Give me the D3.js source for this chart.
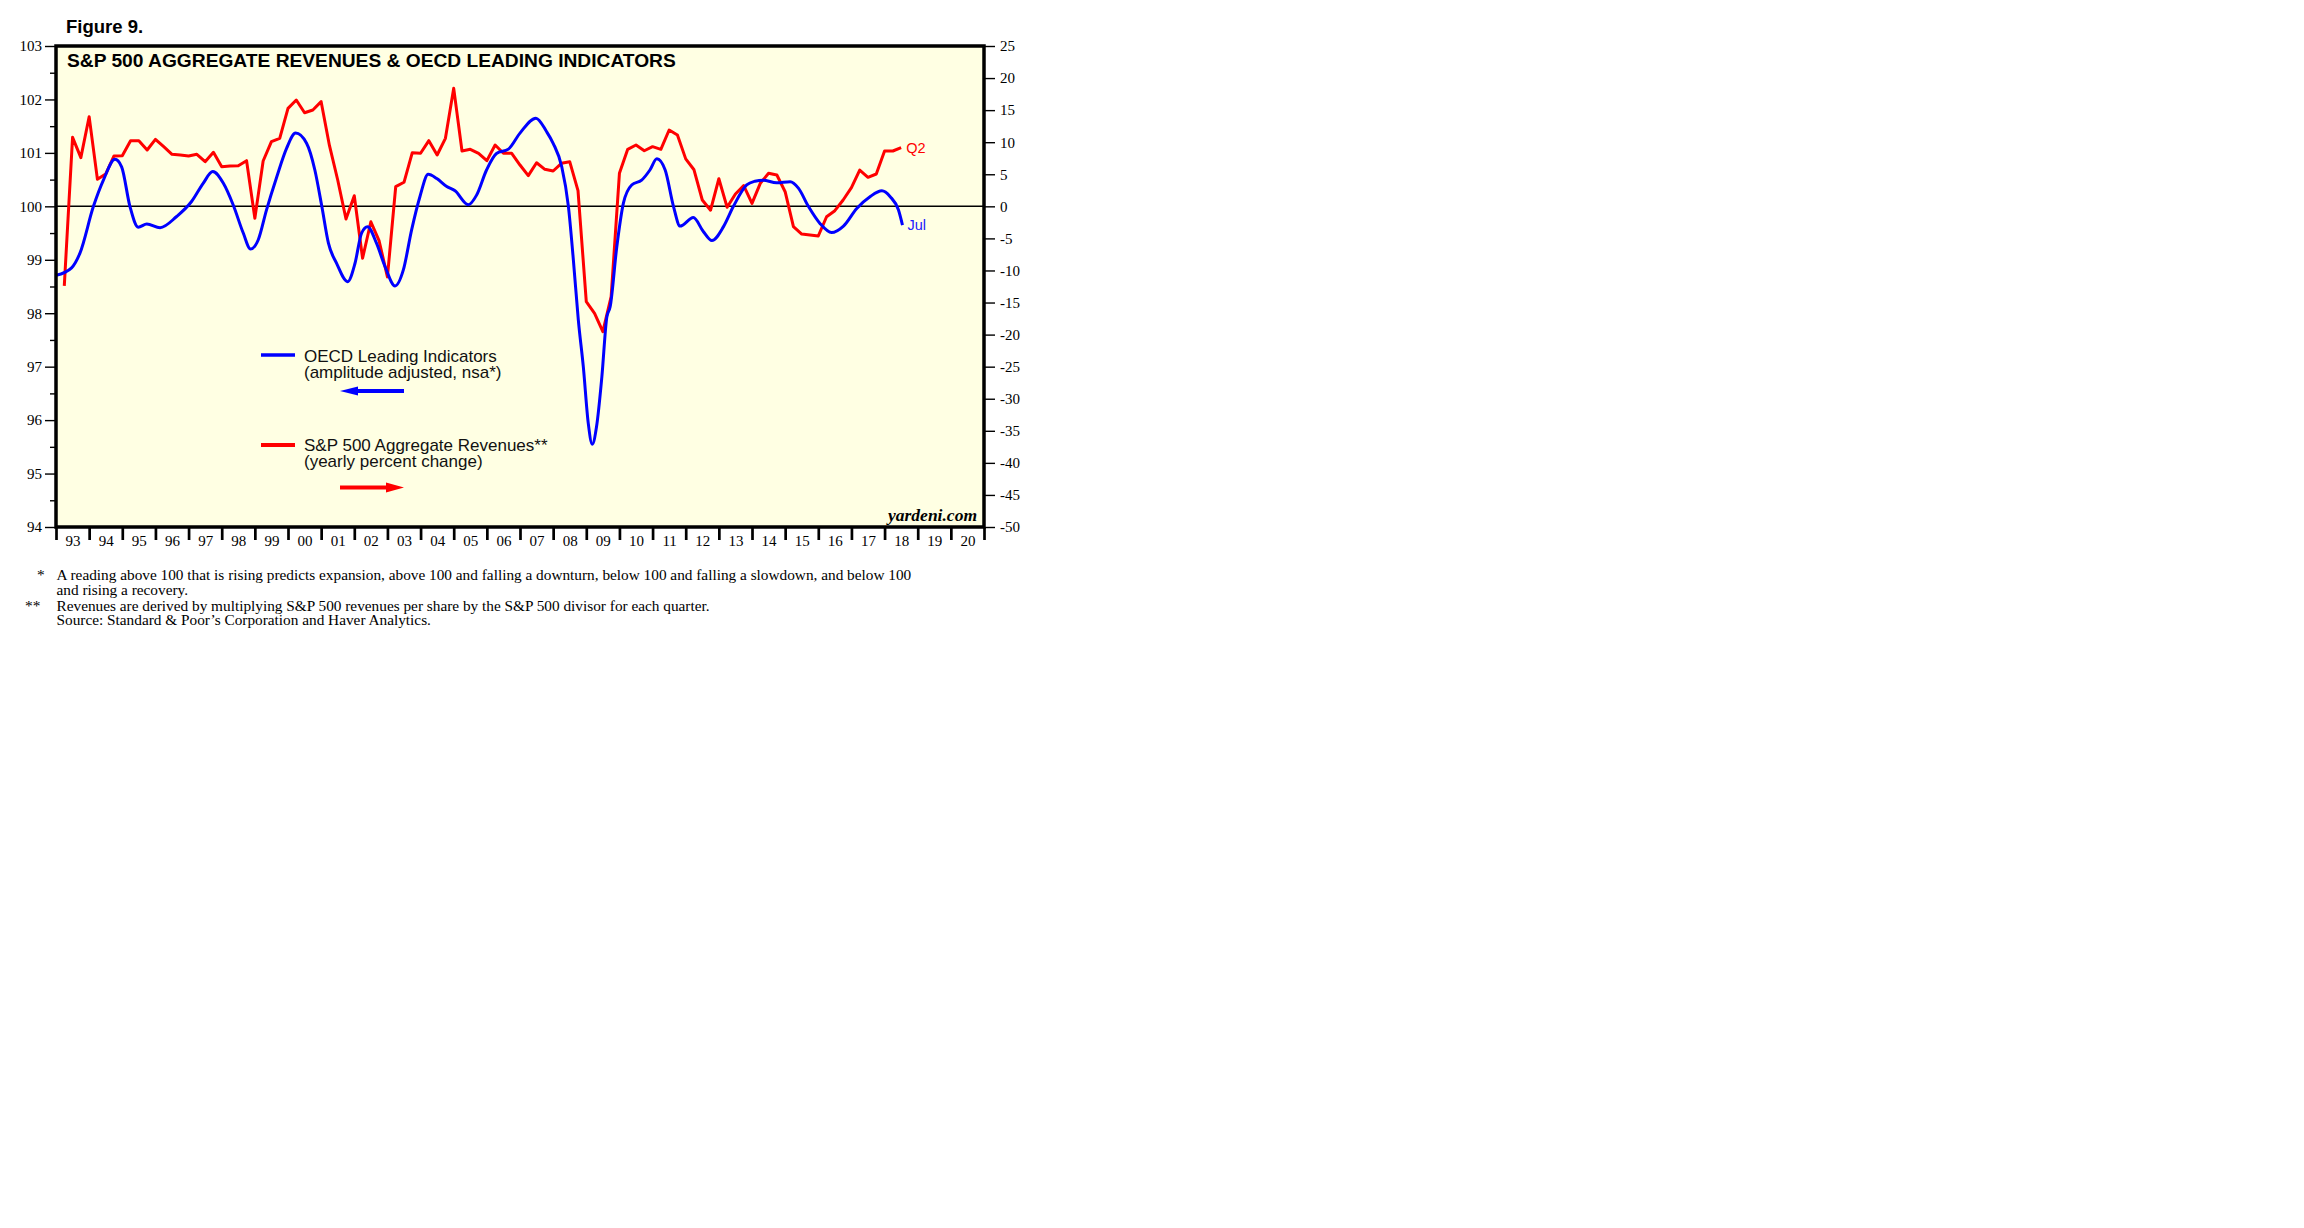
<!DOCTYPE html>
<html>
<head>
<meta charset="utf-8">
<script src="https://cdn.jsdelivr.net/npm/d3@7"></script>
<style>
  html, body { margin: 0; padding: 0; background: #ffffff; }
  svg { display: block; }
</style>
</head>
<body>
<svg id="chart" width="2304" height="1228"></svg>
<script>
// ---------------- DATA ----------------
// OECD Leading Indicators (left axis), time in decimal years
const oecdTime = [1993.00, 1993.47, 1993.72, 1994.13, 1994.43, 1994.78, 1994.98, 1995.23, 1995.48, 1995.74,
  1996.14, 1996.64, 1997.09, 1997.44, 1997.73, 1998.05, 1998.35, 1998.65, 1998.87, 1999.10,
  1999.35, 1999.66, 1999.96, 2000.23, 2000.56, 2000.81, 2001.02, 2001.22, 2001.47, 2001.80,
  2002.02, 2002.22, 2002.40, 2002.67, 2002.93, 2003.23, 2003.48, 2003.73, 2003.98, 2004.23,
  2004.49, 2004.79, 2005.04, 2005.44, 2005.69, 2005.99, 2006.29, 2006.65, 2007.00, 2007.48,
  2007.80, 2008.00, 2008.26, 2008.46, 2008.61, 2008.76, 2008.91, 2009.06, 2009.18, 2009.31,
  2009.47, 2009.62, 2009.72, 2009.92, 2010.12, 2010.37, 2010.67, 2010.92, 2011.13, 2011.38,
  2011.63, 2011.83, 2012.23, 2012.53, 2012.79, 2013.14, 2013.44, 2013.84, 2014.09, 2014.34,
  2014.74, 2015.15, 2015.40, 2015.70, 2016.05, 2016.40, 2016.76, 2017.16, 2017.56, 2017.92,
  2018.17, 2018.42, 2018.54];
const oecdValue = [98.71, 98.85, 99.12, 100.00, 100.49, 100.88, 100.74, 100.00, 99.61, 99.67,
  99.60, 99.81, 100.09, 100.43, 100.65, 100.43, 100.02, 99.50, 99.20, 99.37,
  99.93, 100.55, 101.09, 101.37, 101.18, 100.68, 100.00, 99.31, 98.93, 98.59,
  98.93, 99.50, 99.62, 99.31, 98.87, 98.51, 98.81, 99.56, 100.18, 100.60,
  100.52, 100.37, 100.29, 100.03, 100.21, 100.68, 100.99, 101.07, 101.37, 101.65,
  101.40, 101.18, 100.74, 100.00, 99.00, 97.87, 97.00, 95.94, 95.55, 95.88,
  96.81, 97.93, 98.12, 99.24, 100.06, 100.40, 100.49, 100.68, 100.89, 100.68,
  100.00, 99.63, 99.79, 99.53, 99.36, 99.62, 100.00, 100.40, 100.47, 100.49,
  100.44, 100.46, 100.34, 100.00, 99.68, 99.51, 99.63, 99.96, 100.18, 100.29,
  100.18, 99.93, 99.65];

// S&P 500 aggregate revenues, yearly % change (right axis), quarterly from 1993 Q1
const revFirstYear = 1993;
const revValues = [
  -12.40, 10.76, 7.59, 13.98,   // 1993
  4.21, 5.04, 7.85, 7.90,       // 1994
  10.24, 10.24, 8.78, 10.45,    // 1995
  9.30, 8.11, 8.00, 7.85,       // 1996
  8.11, 6.96, 8.42, 6.18,       // 1997
  6.29, 6.34, 7.12, -1.87,      // 1998
  7.07, 10.08, 10.60, 15.28,    // 1999
  16.58, 14.60, 15.02, 16.32,   // 2000
  9.50, 4.11, -1.98, 1.66,      // 2001
  -8.10, -2.40, -5.40, -11.00,  // 2002
  3.07, 3.75, 8.37, 8.27,       // 2003
  10.24, 8.00, 10.60, 18.40,    // 2004
  8.63, 8.89, 8.27, 7.12,       // 2005
  9.56, 8.27, 8.27, 6.44,       // 2006
  4.78, 6.80, 5.77, 5.51,       // 2007
  6.71, 6.96, 2.44, -14.87,     // 2008
  -16.68, -19.55, -14.09, 5.15, // 2009
  8.89, 9.56, 8.67, 9.30,       // 2010
  8.89, 11.90, 11.12, 7.40,     // 2011
  5.70, 0.99, -0.60, 4.30,      // 2012
  -0.15, 1.92, 3.22, 0.47,      // 2013
  3.59, 5.15, 4.88, 2.28,       // 2014
  -3.17, -4.32, -4.47, -4.63,   // 2015
  -1.62, -0.68, 0.99, 2.91,     // 2016
  5.66, 4.53, 5.04, 8.63,       // 2017
  8.63, 9.14                    // 2018
];

const leftTicks = [94, 95, 96, 97, 98, 99, 100, 101, 102, 103];
const rightTicks = [-50, -45, -40, -35, -30, -25, -20, -15, -10, -5, 0, 5, 10, 15, 20, 25];
const yearTicks = d3.range(1993, 2022);
const yearLabels = ["93","94","95","96","97","98","99","00","01","02","03","04","05","06","07","08","09","10","11","12","13","14","15","16","17","18","19","20"];

const footnotes = [
  {mark: "*", text: "A reading above 100 that is rising predicts expansion, above 100 and falling a downturn, below 100 and falling a slowdown, and below 100"},
  {mark: "", text: "and rising a recovery."},
  {mark: "**", text: "Revenues are derived by multiplying S&P 500 revenues per share by the S&P 500 divisor for each quarter."},
  {mark: "", text: "Source: Standard & Poor\u2019s Corporation and Haver Analytics."}
];

// ---------------- LAYOUT ----------------
const L = 56, R = 984, T = 46, B = 527;
const svg = d3.select("#chart");
const serif = "'Liberation Serif', 'Times New Roman', serif";
const sans = "'Liberation Sans', Arial, Helvetica, sans-serif";

const x = d3.scaleLinear().domain([1993, 2021]).range([L, R]);
const yL = d3.scaleLinear().domain([94, 103]).range([B, T]);
const yR = d3.scaleLinear().domain([-50, 25]).range([B, T]);

// background of plot
svg.append("rect").attr("x", L).attr("y", T).attr("width", R - L).attr("height", B - T)
  .attr("fill", "#ffffe3");

// Figure label and title
svg.append("text").attr("x", 66).attr("y", 33).attr("font-family", sans).attr("font-weight", "bold")
  .attr("font-size", 18.5).attr("fill", "#000").text("Figure 9.");
svg.append("text").attr("x", 67).attr("y", 66.5).attr("font-family", sans).attr("font-weight", "bold")
  .attr("font-size", 19.2).attr("fill", "#000").text("S&P 500 AGGREGATE REVENUES & OECD LEADING INDICATORS");

// zero line
svg.append("line").attr("x1", L).attr("x2", R).attr("y1", yR(0)).attr("y2", yR(0))
  .attr("stroke", "#000").attr("stroke-width", 1.5);

// clip
svg.append("clipPath").attr("id", "clip").append("rect")
  .attr("x", L).attr("y", T).attr("width", R - L).attr("height", B - T);

const plot = svg.append("g").attr("clip-path", "url(#clip)");

// Red: revenues
const revData = revValues.map((v, i) => ({t: revFirstYear + (i + 1) / 4, v}));
plot.append("path").datum(revData)
  .attr("fill", "none").attr("stroke", "#ff0000").attr("stroke-width", 3)
  .attr("stroke-linejoin", "round")
  .attr("d", d3.line().x(d => x(d.t)).y(d => yR(d.v)));

// Blue: OECD
const oecdData = oecdTime.map((t, i) => ({t, v: oecdValue[i]}));
plot.append("path").datum(oecdData)
  .attr("fill", "none").attr("stroke", "#0000ff").attr("stroke-width", 3)
  .attr("stroke-linejoin", "round")
  .attr("d", d3.line().curve(d3.curveMonotoneX).x(d => x(d.t)).y(d => yL(d.v)));

// end labels
const lastRev = revData[revData.length - 1];
svg.append("text").attr("x", x(lastRev.t) + 5).attr("y", yR(lastRev.v) + 5)
  .attr("font-family", sans).attr("font-size", 14.5).attr("fill", "#ff0000").text("Q2");
const lastO = oecdData[oecdData.length - 1];
svg.append("text").attr("x", x(lastO.t) + 5).attr("y", yL(lastO.v) + 5)
  .attr("font-family", sans).attr("font-size", 14.5).attr("fill", "#2020ff").text("Jul");

// Legend
const leg = svg.append("g").attr("font-family", sans).attr("font-size", 17).attr("fill", "#111");
leg.append("line").attr("x1", 261).attr("x2", 295).attr("y1", 355).attr("y2", 355)
  .attr("stroke", "#0000ff").attr("stroke-width", 3.3);
leg.append("text").attr("x", 304).attr("y", 362).text("OECD Leading Indicators");
leg.append("text").attr("x", 304).attr("y", 378).text("(amplitude adjusted, nsa*)");
leg.append("line").attr("x1", 356).attr("x2", 404).attr("y1", 391).attr("y2", 391)
  .attr("stroke", "#0000ff").attr("stroke-width", 4);
leg.append("path").attr("d", "M340,391 L358,386.5 L358,395.5 Z").attr("fill", "#0000ff");

leg.append("line").attr("x1", 261).attr("x2", 295).attr("y1", 445).attr("y2", 445)
  .attr("stroke", "#ff0000").attr("stroke-width", 3.8);
leg.append("text").attr("x", 304).attr("y", 451).text("S&P 500 Aggregate Revenues**");
leg.append("text").attr("x", 304).attr("y", 467).text("(yearly percent change)");
leg.append("line").attr("x1", 340).attr("x2", 388).attr("y1", 487.5).attr("y2", 487.5)
  .attr("stroke", "#ff0000").attr("stroke-width", 4);
leg.append("path").attr("d", "M404,487.5 L386,482.5 L386,492.5 Z").attr("fill", "#ff0000");

// yardeni.com
svg.append("text").attr("x", 977).attr("y", 521).attr("text-anchor", "end")
  .attr("font-family", serif).attr("font-style", "italic").attr("font-weight", "bold")
  .attr("font-size", 17.5).attr("fill", "#000").text("yardeni.com");

// Left axis
const gL = svg.append("g").attr("transform", `translate(${L},0)`)
  .call(d3.axisLeft(yL).tickValues(leftTicks).tickSize(11).tickPadding(3).tickFormat(d => String(d)));
gL.select(".domain").remove();
gL.selectAll("line").attr("stroke-width", 1.4);
gL.selectAll("text").attr("font-family", serif).attr("font-size", 15).attr("fill", "#000");
const gLm = svg.append("g").attr("transform", `translate(${L},0)`)
  .call(d3.axisLeft(yL).tickValues(leftTicks.slice(0, -1).map(d => d + 0.5)).tickSize(6).tickFormat(""));
gLm.select(".domain").remove();
gLm.selectAll("line").attr("stroke-width", 1.4);

// Right axis
const gR = svg.append("g").attr("transform", `translate(${R},0)`)
  .call(d3.axisRight(yR).tickValues(rightTicks).tickSize(11).tickPadding(5).tickFormat(d => String(d)));
gR.select(".domain").remove();
gR.selectAll("line").attr("stroke-width", 1.4);
gR.selectAll("text").attr("font-family", serif).attr("font-size", 15).attr("fill", "#000");

// Bottom axis: ticks at year boundaries, labels centered
const gB = svg.append("g").attr("transform", `translate(0,${B})`)
  .call(d3.axisBottom(x).tickValues(yearTicks).tickSize(13).tickFormat(""));
gB.select(".domain").remove();
gB.selectAll("line").attr("stroke-width", 2.7);
const gBl = svg.append("g").attr("transform", `translate(0,${B})`)
  .call(d3.axisBottom(x).tickValues(yearTicks.slice(0, -1).map(d => d + 0.5)).tickSize(0).tickPadding(8)
    .tickFormat((d, i) => yearLabels[i]));
gBl.select(".domain").remove();
gBl.selectAll("text").attr("font-family", serif).attr("font-size", 15).attr("fill", "#000");

// Frame
svg.append("rect").attr("x", L).attr("y", T).attr("width", R - L).attr("height", B - T)
  .attr("fill", "none").attr("stroke", "#000").attr("stroke-width", 3.5);

// Footnotes
const fnY = [579.5, 594.5, 610.5, 625];
const markX = {"*": 37, "**": 25};
const fn = svg.append("g").attr("font-family", serif).attr("font-size", 15.3).attr("fill", "#000");
footnotes.forEach((f, i) => {
  if (f.mark) fn.append("text").attr("x", markX[f.mark]).attr("y", fnY[i]).text(f.mark);
  fn.append("text").attr("x", 56.5).attr("y", fnY[i]).text(f.text);
});
</script>
</body>
</html>
